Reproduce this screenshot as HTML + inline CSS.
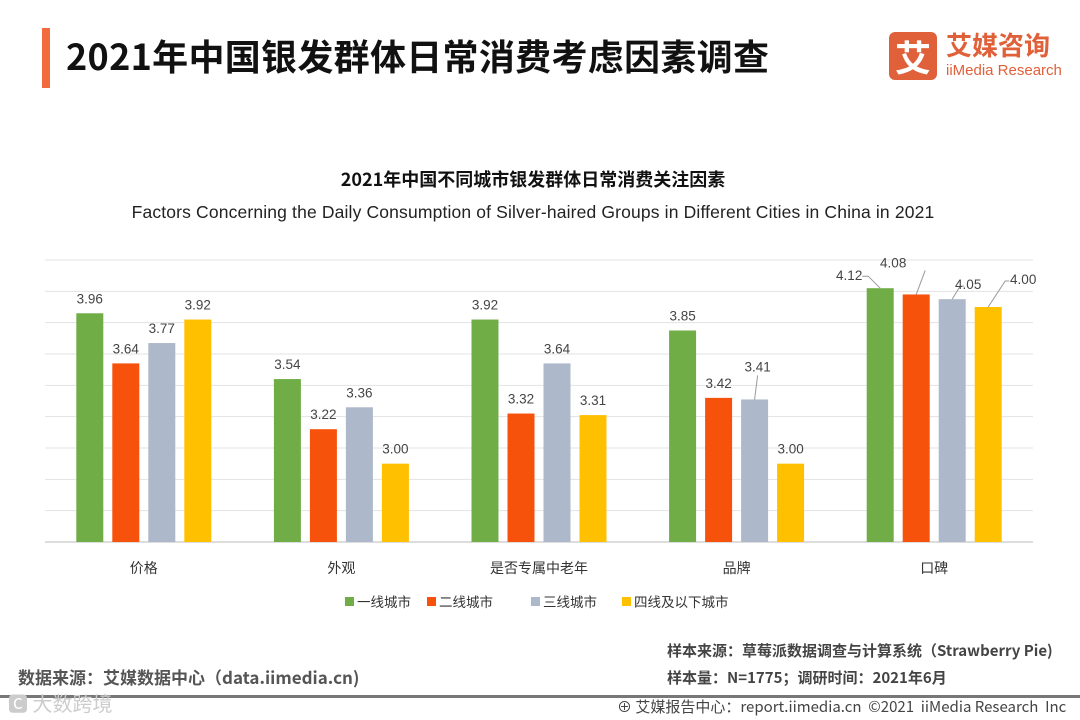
<!DOCTYPE html>
<html><head><meta charset="utf-8"><style>
body{margin:0;width:1080px;height:720px;background:#fff;overflow:hidden;font-family:"Liberation Sans","Noto Sans CJK SC",sans-serif;position:relative}
.abs{position:absolute;white-space:nowrap}
</style></head><body>
<div class="abs" style="left:42px;top:28px;width:8px;height:60px;background:#f26a3d"></div>
<div class="abs" style="left:66px;top:32px;font-size:36px;font-weight:bold;color:#111;font-family:'Noto Sans CJK SC',sans-serif;line-height:46px;letter-spacing:0.3px">2021年中国银发群体日常消费考虑因素调查</div>
<div class="abs" style="left:889px;top:32px;width:48px;height:48px;background:#e0603a;border-radius:6px;color:#fff;font-size:36px;font-weight:bold;text-align:center;line-height:48px;font-family:'Noto Sans CJK SC',sans-serif">艾</div>
<div class="abs" style="left:946px;top:30px;font-size:26px;font-weight:bold;color:#e0603a;font-family:'Noto Sans CJK SC',sans-serif;line-height:30px">艾媒咨询</div>
<div class="abs" style="left:946px;top:63px;font-size:15px;color:#e0603a;line-height:16px">iiMedia Research</div>
<div class="abs" style="left:0;width:1066px;text-align:center;top:167px;font-size:18px;font-weight:bold;color:#111;font-family:'Noto Sans CJK SC',sans-serif;line-height:24px">2021年中国不同城市银发群体日常消费关注因素</div>
<div class="abs" style="left:0;width:1066px;text-align:center;top:201px;font-size:17.5px;color:#222;line-height:22px;letter-spacing:0.15px">Factors Concerning the Daily Consumption of Silver-haired Groups in Different Cities in China in 2021</div>
<svg id="chart" class="abs" style="left:0;top:0" width="1080" height="720"></svg>
<div class="abs" style="left:18px;top:664px;font-size:17px;color:#555;font-weight:bold;font-family:'Noto Sans CJK SC',sans-serif">数据来源：艾媒数据中心（data.iimedia.cn)</div>
<div class="abs" style="left:667px;top:640px;font-size:15px;color:#444;font-weight:bold;font-family:'Noto Sans CJK SC',sans-serif">样本来源：草莓派数据调查与计算系统（Strawberry Pie)</div>
<div class="abs" style="left:667px;top:667px;font-size:15px;color:#444;font-weight:bold;font-family:'Noto Sans CJK SC',sans-serif">样本量：N=1775；调研时间：2021年6月</div>
<div class="abs" style="left:0;top:695px;width:1080px;height:3px;background:#777"></div>
<div class="abs" style="left:617px;top:696px;font-size:15px;color:#444;font-family:'Noto Sans CJK SC',sans-serif">⊕ 艾媒报告中心：report.iimedia.cn &nbsp;©2021 &nbsp;iiMedia Research &nbsp;Inc</div>
<div class="abs" style="left:8px;top:688px;font-size:20px;color:#ccc;font-family:'Noto Sans CJK SC',sans-serif">🅲 大数跨境</div>
<script>
const categories=["价格","外观","是否专属中老年","品牌","口碑"];
const seriesNames=["一线城市","二线城市","三线城市","四线及以下城市"];
const tier1=[3.96,3.54,3.92,3.85,4.12];
const tier2=[3.64,3.22,3.32,3.42,4.08];
const tier3=[3.77,3.36,3.64,3.41,4.05];
const tier4=[3.92,3.00,3.31,3.00,4.00];
const colors=["#70ad47","#f7520b","#adb9ca","#ffc000"];
const yMin=2.5,yMax=4.3,yStep=0.2;
const svg=document.getElementById('chart');const NS="http://www.w3.org/2000/svg";
const X0=45,X1=1033,Y0=542,Y1=260;
const y=v=>Y0-(v-yMin)/(yMax-yMin)*(Y0-Y1);
const gw=(X1-X0)/categories.length;
const cx=i=>X0+gw*(i+0.5);
function mk(t,a){const e=document.createElementNS(NS,t);for(const k in a)e.setAttribute(k,a[k]);svg.appendChild(e);return e;}
for(let v=yMin;v<=yMax+1e-6;v+=yStep){const g=mk('line',{x1:X0,x2:X1,y1:y(v),y2:y(v),stroke:v<yMin+1e-6?'#bbb':'#e3e3e3','stroke-width':1});

}
const series=[tier1,tier2,tier3,tier4];
const bw=27,step=36;
// leader-lined labels: [label dx, label dy, line end dx, line end dy, horizontal tail]
const lead={"2-3":[3,-28,3,-24,0],"0-4":[-31,-8,-12,-12,-6],"1-4":[-23,-27,9,-24,0],"2-4":[16,-10,8,-13,4],"3-4":[35,-23,17,-26,4]};
series.forEach((s,si)=>s.forEach((v,ci)=>{
 const bx=cx(ci)+(si-1.5)*step-bw/2;
 const r=mk('rect',{x:bx,y:y(v),width:bw,height:Y0-y(v),fill:colors[si]});
 
 
 const mx=bx+bw/2,key=si+'-'+ci,top=y(v);let lx=mx,ly=top-10;
 if(lead[key]){const o=lead[key];lx=mx+o[0];ly=top+o[1];
  const ex=mx+o[2],ey=top+o[3];
  const l=mk('polyline',{points:`${mx},${top} ${ex},${ey} ${ex+o[4]},${ey}`,fill:'none',stroke:'#999','stroke-width':1});
  
  }
 const t=mk('text',{x:lx,y:ly,'text-anchor':'middle','font-size':13.5,fill:'#444'});t.textContent=v.toFixed(2);
 
 
}));
categories.forEach((c,i)=>{const t=mk('text',{x:cx(i),y:573,'text-anchor':'middle','font-size':14,fill:'#333'});t.textContent=c;

});
const lx=[345,427,531,622];
seriesNames.forEach((n,i)=>{const r=mk('rect',{x:lx[i],y:597,width:9,height:9,fill:colors[i]});


const t=mk('text',{x:lx[i]+12,y:607,'font-size':13.5,fill:'#333'});t.textContent=n;

});
</script>
</body></html>
